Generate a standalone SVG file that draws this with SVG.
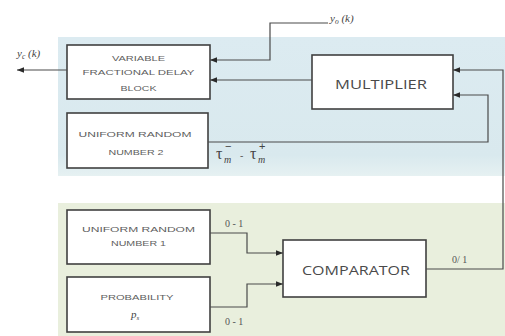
<svg xmlns="http://www.w3.org/2000/svg" width="505" height="336" viewBox="0 0 505 336">
<defs>
<linearGradient id="blueBg" x1="0" y1="0" x2="0" y2="1">
<stop offset="0" stop-color="#dcebf1"/>
<stop offset="0.85" stop-color="#d9e9ee"/>
<stop offset="1" stop-color="#e6f1f2"/>
</linearGradient>
<marker id="ah" viewBox="0 0 10 10" refX="10" refY="5" markerWidth="7" markerHeight="7" markerUnits="userSpaceOnUse" orient="auto">
<path d="M0,1 L10,5 L0,9 z" fill="#2a2a2a"/>
</marker>
<style>
.box{fill:#ffffff;stroke:#404040;stroke-width:1.6}
.small{font-family:"Liberation Sans",Arial,sans-serif;font-size:7.5px;fill:#606060;text-anchor:middle}
.big{font-family:"Open Sans","Liberation Sans",Arial,sans-serif;font-size:12.5px;fill:#4a4a4a;text-anchor:middle}
.lbl{font-family:"Liberation Serif","Times New Roman",serif;font-size:11px;fill:#444;font-style:italic}
.tau{font-family:"Liberation Serif","Times New Roman",serif;font-size:16px;fill:#444}
.sub{font-family:"Liberation Serif","Times New Roman",serif;font-size:10px;fill:#444;font-style:italic}
.sup{font-family:"Liberation Sans",Arial,sans-serif;font-size:11px;fill:#444}
.num{font-family:"Liberation Serif","Times New Roman",serif;font-size:10px;fill:#555}
.wire{fill:none;stroke:#4a4a4a;stroke-width:1.2}
.arr{marker-end:url(#ah)}
</style>
</defs>
<rect width="505" height="336" fill="#ffffff"/>
<rect x="58" y="37" width="447" height="139" fill="url(#blueBg)"/>
<rect x="58" y="203" width="447" height="133" fill="#e9efdd"/>

<g id="vfd">
<rect class="box" x="67" y="45" width="143" height="54"/>
<text class="small" x="138.5" y="61" textLength="53" lengthAdjust="spacingAndGlyphs">VARIABLE</text>
<text class="small" x="138.5" y="75" textLength="112" lengthAdjust="spacingAndGlyphs">FRACTIONAL DELAY</text>
<text class="small" x="138.5" y="91" textLength="36" lengthAdjust="spacingAndGlyphs">BLOCK</text>
</g>
<g id="multiplier">
<rect class="box" x="312" y="55" width="141" height="54"/>
<text class="big" x="381" y="89" textLength="92" lengthAdjust="spacingAndGlyphs">MULTIPLIER</text>
</g>
<g id="unr2">
<rect class="box" x="67" y="113" width="141" height="55"/>
<text class="small" x="135" y="137" textLength="113" lengthAdjust="spacingAndGlyphs">UNIFORM RANDOM</text>
<text class="small" x="136" y="155" textLength="55" lengthAdjust="spacingAndGlyphs">NUMBER 2</text>
</g>
<g id="unr1">
<rect class="box" x="67" y="210" width="143" height="54"/>
<text class="small" x="138.5" y="232" textLength="113" lengthAdjust="spacingAndGlyphs">UNIFORM RANDOM</text>
<text class="small" x="138.5" y="246" textLength="55" lengthAdjust="spacingAndGlyphs">NUMBER 1</text>
</g>
<g id="probability">
<rect class="box" x="67" y="277" width="143" height="55"/>
<text class="small" x="137" y="300" textLength="73" lengthAdjust="spacingAndGlyphs">PROBABILITY</text>
<text class="lbl" x="131" y="318">p<tspan font-size="7" dy="2">s</tspan></text>
</g>
<g id="comparator">
<rect class="box" x="283" y="240" width="143" height="57"/>
<text class="big" x="356" y="275" textLength="108" lengthAdjust="spacingAndGlyphs">COMPARATOR</text>
</g>

<g id="connectors">
<path class="wire arr" d="M67,70 H17"/>
<path class="wire arr" d="M328,23 H270 V60 H210"/>
<path class="wire arr" d="M312,80 H210"/>
<path class="wire arr" d="M426,269 H503 V70 H453"/>
<path class="wire arr" d="M208,142 H488 V95 H453"/>
<path class="wire arr" d="M210,233 H247 V253 H283"/>
<path class="wire arr" d="M210,307 H247 V284 H283"/>
</g>

<g id="labels">
<text class="lbl" x="17" y="57">y<tspan font-size="7.5" dy="2">c</tspan><tspan dy="-2"> (k)</tspan></text>
<text class="lbl" x="330" y="22">y<tspan font-size="7.5" dy="2">o</tspan><tspan dy="-2"> (k)</tspan></text>
<text class="tau" x="216" y="159">τ</text>
<text class="sub" x="224" y="163">m</text>
<text class="sup" x="225" y="150">−</text>
<text class="num" x="240" y="159">-</text>
<text class="tau" x="250" y="159">τ</text>
<text class="sub" x="258" y="163">m</text>
<text class="sup" x="259" y="150">+</text>
<text class="num" x="225" y="227">0 - 1</text>
<text class="num" x="225" y="325">0 - 1</text>
<text class="num" x="452" y="263">0/ 1</text>
</g>
</svg>
